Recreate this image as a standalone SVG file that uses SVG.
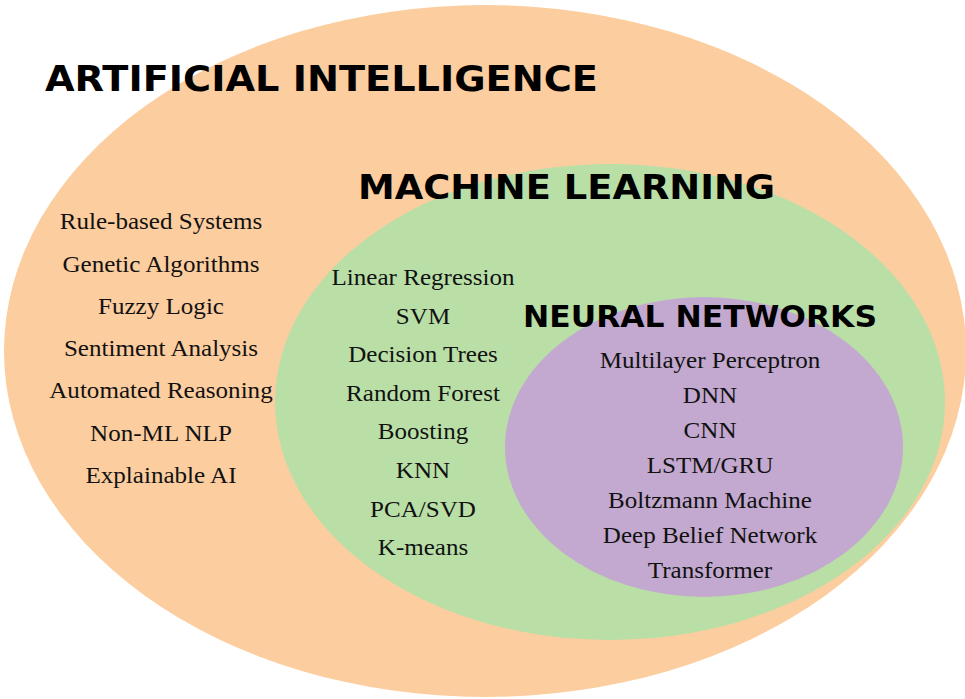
<svg xmlns="http://www.w3.org/2000/svg" width="965" height="699" viewBox="0 0 965 699">
<style>
.title{font-family:"DejaVu Sans","Liberation Sans",sans-serif;font-weight:bold;fill:#000;}
.item{font-family:"Liberation Serif","Times New Roman",serif;font-size:23px;fill:#111;text-anchor:middle;}
</style>
<rect width="965" height="699" fill="#ffffff"/>
<g id="ai">
<ellipse cx="485" cy="351" rx="481" ry="346" fill="#FCCD9E"/>
</g>
<g id="ml">
<ellipse cx="610" cy="402" rx="335" ry="238" fill="#B9DFA7"/>
</g>
<g id="nn">
<ellipse cx="704" cy="447" rx="199" ry="150" fill="#C3A9CF"/>
</g>
<g id="labels-ai">
<text class="title" x="45" y="91" font-size="35" textLength="553" lengthAdjust="spacingAndGlyphs">ARTIFICIAL INTELLIGENCE</text>
<g transform="scale(1.09,1)">
<text class="item" x="147.7" y="229.3">Rule-based Systems</text>
<text class="item" x="147.7" y="271.6">Genetic Algorithms</text>
<text class="item" x="147.7" y="313.9">Fuzzy Logic</text>
<text class="item" x="147.7" y="356.2">Sentiment Analysis</text>
<text class="item" x="147.7" y="398.5">Automated Reasoning</text>
<text class="item" x="147.7" y="440.8">Non-ML NLP</text>
<text class="item" x="147.7" y="483.1">Explainable AI</text>
</g>
</g>
<g id="labels-ml">
<text class="title" x="358" y="199" font-size="33.5" textLength="417" lengthAdjust="spacingAndGlyphs">MACHINE LEARNING</text>
<g transform="scale(1.09,1)">
<text class="item" x="388.1" y="285">Linear Regression</text>
<text class="item" x="388.1" y="323.6">SVM</text>
<text class="item" x="388.1" y="362.2">Decision Trees</text>
<text class="item" x="388.1" y="400.8">Random Forest</text>
<text class="item" x="388.1" y="439.4">Boosting</text>
<text class="item" x="388.1" y="478">KNN</text>
<text class="item" x="388.1" y="516.6">PCA/SVD</text>
<text class="item" x="388.1" y="555.2">K-means</text>
</g>
</g>
<g id="labels-nn">
<text class="title" x="523" y="327" font-size="30.5" textLength="354" lengthAdjust="spacingAndGlyphs">NEURAL NETWORKS</text>
<g transform="scale(1.09,1)">
<text class="item" x="651.4" y="368.3">Multilayer Perceptron</text>
<text class="item" x="651.4" y="403.3">DNN</text>
<text class="item" x="651.4" y="438.3">CNN</text>
<text class="item" x="651.4" y="473.3">LSTM/GRU</text>
<text class="item" x="651.4" y="508.3">Boltzmann Machine</text>
<text class="item" x="651.4" y="543.3">Deep Belief Network</text>
<text class="item" x="651.4" y="578">Transformer</text>
</g>
</g>
<g id="connectors"></g>
</svg>
